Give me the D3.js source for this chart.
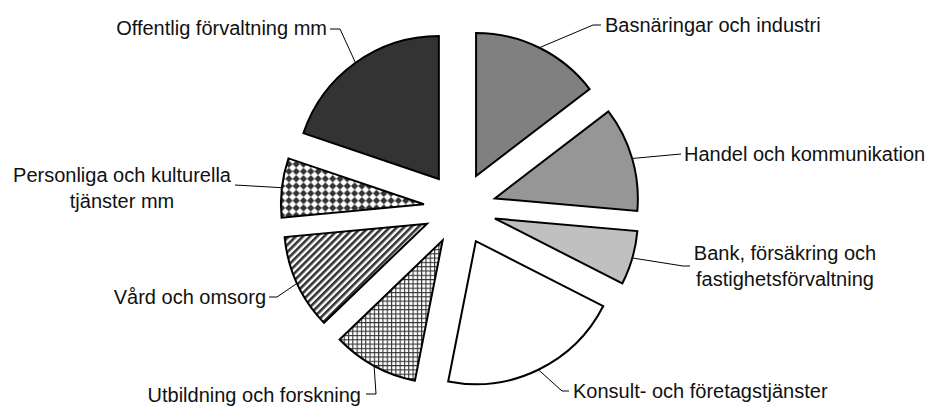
<!DOCTYPE html>
<html><head><meta charset="utf-8">
<script src="https://cdn.jsdelivr.net/npm/d3@7"></script>
<style>html,body{margin:0;padding:0;background:#fff;}svg{display:block;}</style>
</head><body>
<svg id="chart" width="932" height="406"></svg>
<script>
// ---- data ----
const categories = [
  "Basnäringar och industri",
  "Handel och kommunikation",
  "Bank, försäkring och fastighetsförvaltning",
  "Konsult- och företagstjänster",
  "Utbildning och forskning",
  "Vård och omsorg",
  "Personliga och kulturella tjänster mm",
  "Offentlig förvaltning mm"
];
const values = [14.6, 11.8, 6.1, 20.6, 9.7, 10.7, 6.7, 19.8];
const labelLines = [
  ["Basnäringar och industri"],
  ["Handel och kommunikation"],
  ["Bank, försäkring och", "fastighetsförvaltning"],
  ["Konsult- och företagstjänster"],
  ["Utbildning och forskning"],
  ["Vård och omsorg"],
  ["Personliga och kulturella", "tjänster mm"],
  ["Offentlig förvaltning mm"]
];

// ---- layout / style ----
const W = 932, H = 406;
const cx = 460, cy = 208.5, R = 143, explode = 36.3;
const fills = ["#808080", "#969696", "#c0c0c0", "#ffffff", "url(#grid)", "url(#stripes)", "url(#diamonds)", "#333333"];
const labelLayout = [
  {x: 605, y: 25, anchor: "start", elbows: [[593, 25], [601, 25]]},
  {x: 684, y: 154, anchor: "start", elbows: [[681, 154]]},
  {x: 785, y: 253, anchor: "middle", elbows: [[683, 266], [690, 266]]},
  {x: 573, y: 391, anchor: "start", elbows: [[562, 391], [569, 391]]},
  {x: 361, y: 395, anchor: "end", elbows: [[376, 394], [366, 394]]},
  {x: 266, y: 297, anchor: "end", elbows: [[277, 297], [269, 297]]},
  {x: 122, y: 175, anchor: "middle", elbows: [[235, 185]]},
  {x: 327, y: 28, anchor: "end", elbows: [[340, 29], [330, 29]]}
];
const lineHeight = 25.5;

const svg = d3.select("#chart");
const defs = svg.append("defs");

const g1 = defs.append("pattern").attr("id", "grid").attr("patternUnits", "userSpaceOnUse")
  .attr("width", 4.3).attr("height", 4.3);
g1.append("rect").attr("width", 4.3).attr("height", 4.3).attr("fill", "#fff");
g1.append("rect").attr("x", 0).attr("y", 0).attr("width", 1.1).attr("height", 4.3).attr("fill", "#333");
g1.append("rect").attr("x", 0).attr("y", 0).attr("width", 4.3).attr("height", 1.1).attr("fill", "#333");

const g2 = defs.append("pattern").attr("id", "stripes").attr("patternUnits", "userSpaceOnUse")
  .attr("width", 5).attr("height", 5).attr("patternTransform", "rotate(45)");
g2.append("rect").attr("width", 5).attr("height", 5).attr("fill", "#fff");
g2.append("rect").attr("width", 2.6).attr("height", 5).attr("fill", "#333");

const g3 = defs.append("pattern").attr("id", "diamonds").attr("patternUnits", "userSpaceOnUse")
  .attr("width", 7.3).attr("height", 7.3).attr("x", 0).attr("y", 0);
g3.append("rect").attr("width", 7.3).attr("height", 7.3).attr("fill", "#fff");
g3.append("path").attr("d", "M3.65,0 L7.3,3.65 L3.65,7.3 L0,3.65 Z").attr("fill", "#333");

const pie = d3.pie().sort(null).value(d => d)(values);
const arc = d3.arc().innerRadius(0).outerRadius(R);

const slices = svg.append("g").attr("transform", `translate(${cx},${cy})`);
slices.selectAll("path").data(pie).join("path")
  .attr("transform", d => {
    const m = (d.startAngle + d.endAngle) / 2;
    return `translate(${explode * Math.sin(m)},${-explode * Math.cos(m)})`;
  })
  .attr("d", arc)
  .attr("fill", (d, i) => fills[i])
  .attr("stroke", "#000")
  .attr("stroke-width", 2)
  .attr("stroke-linejoin", "miter");

const leaders = svg.append("g");
pie.forEach((d, i) => {
  const m = (d.startAngle + d.endAngle) / 2;
  const sx = cx + (explode + R) * Math.sin(m);
  const sy = cy - (explode + R) * Math.cos(m);
  const pts = [[sx, sy]].concat(labelLayout[i].elbows);
  leaders.append("path")
    .attr("d", d3.line()(pts))
    .attr("fill", "none").attr("stroke", "#000").attr("stroke-width", 1);
});

const labels = svg.append("g")
  .attr("font-family", "'Liberation Sans', Arial, Helvetica, sans-serif")
  .attr("font-size", 20).attr("fill", "#111");
labelLines.forEach((lines, i) => {
  const L = labelLayout[i];
  const t = labels.append("text").attr("text-anchor", L.anchor);
  lines.forEach((s, j) => {
    t.append("tspan").attr("x", L.x).attr("y", L.y + j * lineHeight).attr("dy", "0.35em").text(s);
  });
});
</script>
</body></html>
